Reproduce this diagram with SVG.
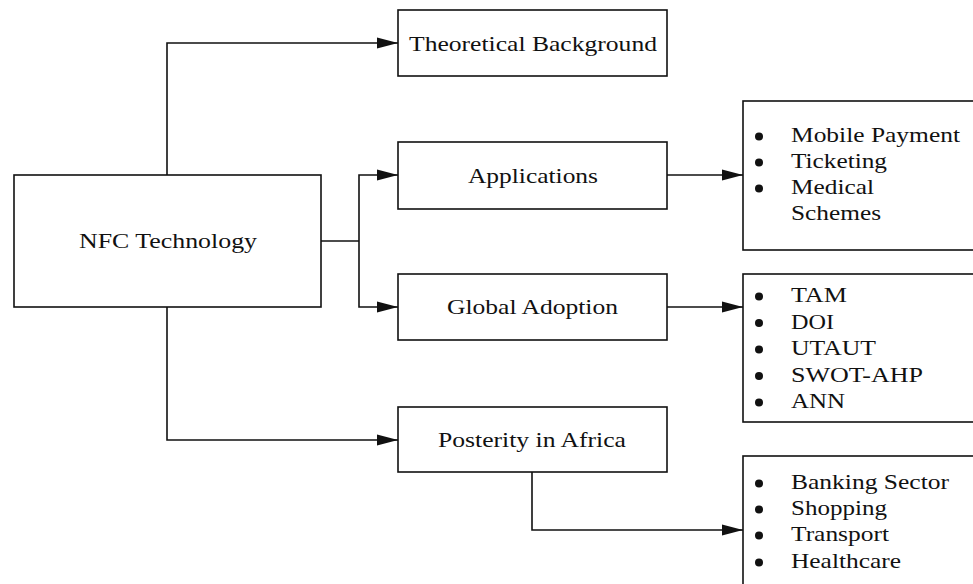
<svg xmlns="http://www.w3.org/2000/svg" width="973" height="584" viewBox="0 0 973 584">
<defs>
<style>
.box{fill:#fff;stroke:#111;stroke-width:1.6}
.ln{fill:none;stroke:#111;stroke-width:1.6}
.t{font-family:"Liberation Serif","Times New Roman",serif;font-size:22px;fill:#111}
.dot{fill:#111}
</style>
<marker id="ah" markerUnits="userSpaceOnUse" markerWidth="22" markerHeight="12" refX="21" refY="6" orient="auto">
<path d="M0,0.5 L21,6 L0,11.5 Z" fill="#111"/>
</marker>
</defs>
<rect width="973" height="584" fill="#fff"/>
<g id="connectors">
<path class="ln" d="M167,175 V43 H398" marker-end="url(#ah)"/>
<path class="ln" d="M321,241 H359"/>
<path class="ln" d="M359,241 V175 H398" marker-end="url(#ah)"/>
<path class="ln" d="M359,241 V307 H398" marker-end="url(#ah)"/>
<path class="ln" d="M167,307 V440 H398" marker-end="url(#ah)"/>
<path class="ln" d="M667,175 H743" marker-end="url(#ah)"/>
<path class="ln" d="M667,307 H743" marker-end="url(#ah)"/>
<path class="ln" d="M532,472 V530 H743" marker-end="url(#ah)"/>
</g>
<g id="nfc">
<rect class="box" x="14" y="175" width="307" height="132"/>
<text class="t" x="79" y="248" textLength="178" lengthAdjust="spacingAndGlyphs">NFC Technology</text>
</g>
<g id="theoretical">
<rect class="box" x="398" y="10" width="269" height="66"/>
<text class="t" x="409" y="51" textLength="248" lengthAdjust="spacingAndGlyphs">Theoretical Background</text>
</g>
<g id="applications">
<rect class="box" x="398" y="142" width="269" height="67"/>
<text class="t" x="468" y="183" textLength="130" lengthAdjust="spacingAndGlyphs">Applications</text>
</g>
<g id="global">
<rect class="box" x="398" y="274" width="269" height="66"/>
<text class="t" x="447" y="314" textLength="171" lengthAdjust="spacingAndGlyphs">Global Adoption</text>
</g>
<g id="posterity">
<rect class="box" x="398" y="407" width="269" height="65"/>
<text class="t" x="438" y="447" textLength="188" lengthAdjust="spacingAndGlyphs">Posterity in Africa</text>
</g>
<g id="app-list">
<rect class="box" x="743" y="101" width="250" height="149"/>
<circle class="dot" cx="759" cy="136.5" r="4"/>
<circle class="dot" cx="759" cy="162.5" r="4"/>
<circle class="dot" cx="759" cy="188.5" r="4"/>
<text class="t" x="791" y="142" textLength="169" lengthAdjust="spacingAndGlyphs">Mobile Payment</text>
<text class="t" x="791" y="168" textLength="96" lengthAdjust="spacingAndGlyphs">Ticketing</text>
<text class="t" x="791" y="194" textLength="83" lengthAdjust="spacingAndGlyphs">Medical</text>
<text class="t" x="791" y="220" textLength="90" lengthAdjust="spacingAndGlyphs">Schemes</text>
</g>
<g id="adoption-list">
<rect class="box" x="743" y="274" width="250" height="148"/>
<circle class="dot" cx="759" cy="296.5" r="4"/>
<circle class="dot" cx="759" cy="323" r="4"/>
<circle class="dot" cx="759" cy="349.5" r="4"/>
<circle class="dot" cx="759" cy="376" r="4"/>
<circle class="dot" cx="759" cy="402.5" r="4"/>
<text class="t" x="791" y="302" textLength="56" lengthAdjust="spacingAndGlyphs">TAM</text>
<text class="t" x="791" y="328.5" textLength="43" lengthAdjust="spacingAndGlyphs">DOI</text>
<text class="t" x="791" y="355" textLength="85" lengthAdjust="spacingAndGlyphs">UTAUT</text>
<text class="t" x="791" y="381.5" textLength="132" lengthAdjust="spacingAndGlyphs">SWOT-AHP</text>
<text class="t" x="791" y="408" textLength="54" lengthAdjust="spacingAndGlyphs">ANN</text>
</g>
<g id="africa-list">
<rect class="box" x="743" y="456" width="250" height="150"/>
<circle class="dot" cx="759" cy="483.5" r="4"/>
<circle class="dot" cx="759" cy="509.5" r="4"/>
<circle class="dot" cx="759" cy="535.5" r="4"/>
<circle class="dot" cx="759" cy="562.5" r="4"/>
<text class="t" x="791" y="489" textLength="158" lengthAdjust="spacingAndGlyphs">Banking Sector</text>
<text class="t" x="791" y="515" textLength="96" lengthAdjust="spacingAndGlyphs">Shopping</text>
<text class="t" x="791" y="541" textLength="98" lengthAdjust="spacingAndGlyphs">Transport</text>
<text class="t" x="791" y="568" textLength="110" lengthAdjust="spacingAndGlyphs">Healthcare</text>
</g>
</svg>
